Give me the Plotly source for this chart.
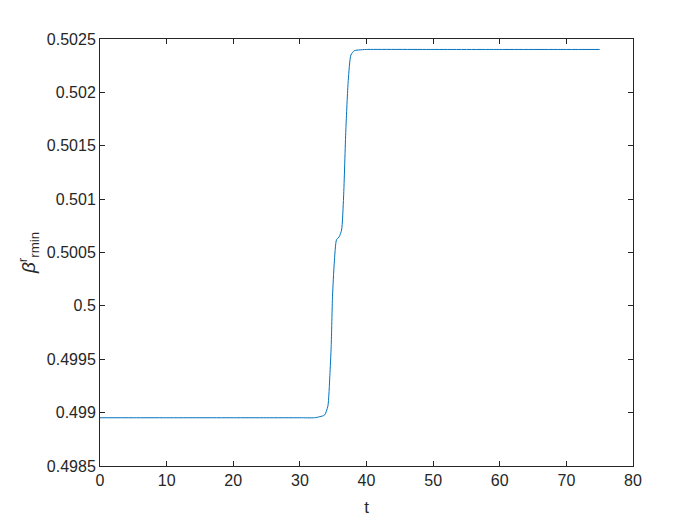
import plotly.graph_objects as go

t = [0, 5, 10, 15, 20, 25, 30, 32.2, 33.0, 33.7, 34.2, 34.5, 34.7, 34.9, 35.16, 35.5, 35.9, 36.26, 36.56, 36.9, 37.26, 37.66, 38.16, 39.4, 40, 50, 60, 70, 75]
beta = [0.498952, 0.498952, 0.498952, 0.498952, 0.498952, 0.498952, 0.498952, 0.498952, 0.498962, 0.498977, 0.49906, 0.49935, 0.49962, 0.50009, 0.5004, 0.50062, 0.500647, 0.50071, 0.50102, 0.50165, 0.50211, 0.50235, 0.50239, 0.502400, 0.502402, 0.502402, 0.502402, 0.502402, 0.502402]

ytick_vals = [0.4985, 0.499, 0.4995, 0.5, 0.5005, 0.501, 0.5015, 0.502, 0.5025]
ytick_text = ["0.4985", "0.499", "0.4995", "0.5", "0.5005", "0.501", "0.5015", "0.502", "0.5025"]
xtick_vals = [0, 10, 20, 30, 40, 50, 60, 70, 80]

FONT = "Liberation Sans, Arial, Helvetica"

fig = go.Figure()
fig.add_trace(go.Scatter(x=t, y=beta, mode="lines", line=dict(color="#0072BD", width=1, shape="spline", smoothing=0.6)))

axis_common = dict(
    showline=True, linecolor="#262626", linewidth=1, mirror="ticks",
    ticks="inside", ticklen=5, tickcolor="#262626", showgrid=False, zeroline=False,
    tickfont=dict(family=FONT, size=16, color="#262626"),
)
fig.update_layout(
    width=692, height=517,
    margin=dict(l=92, r=67, t=31, b=59),
    paper_bgcolor="white", plot_bgcolor="white",
    showlegend=False,
    xaxis=dict(range=[0, 80], tickvals=xtick_vals,
               title=dict(text="t", font=dict(family=FONT, size=17, color="#262626"), standoff=12),
               **axis_common),
    yaxis=dict(range=[0.4985, 0.5025], tickvals=ytick_vals, ticktext=ytick_text,
               title=dict(text="<i>β</i><sup>r</sup><sub>rmin</sub>", font=dict(family=FONT, size=19, color="#262626"), standoff=6),
               **axis_common),
)
fig.write_html("out.html")
